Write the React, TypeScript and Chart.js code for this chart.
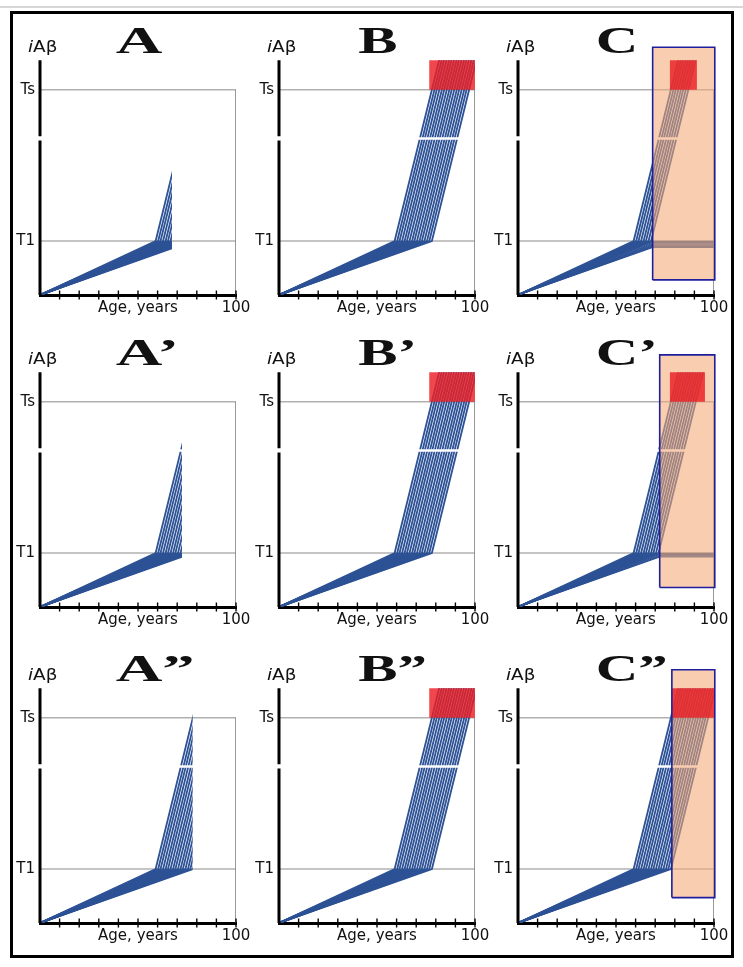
import React, { useEffect, useRef } from 'react';
import { Chart, registerables } from 'chart.js';

Chart.register(...registerables);

// ---- levels (in units of the T1 threshold) ----
const LEVEL_T1 = 1;
const LEVEL_TS = 3.8;
const LEVEL_AXIS_TOP = 4.35;
const LEVEL_BREAK_LOW = 2.86;
const LEVEL_BREAK_HIGH = 2.94;
const LEVEL_BREAK = 2.9;
const LEVEL_LABEL = 4.5;
const Y_MAX = 4.76;

// ---- axis ticks ----
const AGE_TICKS = [10, 20, 30, 40, 50, 60, 70, 80, 90, 100];
const AGE_TICK_LABELS: Record<number, string> = { 50: 'Age, years', 100: '100' };
const LEVEL_TICKS = [LEVEL_T1, LEVEL_TS];
const LEVEL_TICK_LABELS = ['T1', 'Ts'];

// ---- trajectories: age crossing T1, age crossing Ts, age reaching axis top ----
const ONSET_AGES = [59.0, 60.3, 61.5, 62.8, 64.1, 65.3, 66.6, 67.9, 69.1, 70.4, 71.7, 72.9, 74.2, 75.5, 76.7, 78.0];
const TS_AGES = [78.0, 79.3, 80.5, 81.8, 83.1, 84.3, 85.6, 86.9, 88.1, 89.4, 90.7, 91.9, 93.2, 94.5, 95.7, 97.0];
const TOP_AGES = [81.7, 83.0, 84.2, 85.5, 86.8, 88.0, 89.3, 90.6, 91.8, 93.1, 94.4, 95.6, 96.9, 98.2, 99.4, 100.7];

// ---- panels (row-major: A B C / A' B' C' / A" B" C") ----
const PANEL_TITLES = ['A', 'B', 'C', 'A\u2019', 'B\u2019', 'C\u2019', 'A\u201D', 'B\u201D', 'C\u201D'];
const PANEL_BASE_LETTERS = ['A', 'B', 'C', 'A', 'B', 'C', 'A', 'B', 'C'];
const DEATH_AGES: (number | null)[] = [67.3, null, null, 72.4, null, null, 77.9, null, null];
const TREAT_AGES: (number | null)[] = [null, null, 68.7, null, null, 72.3, null, null, 78.5];
const TREAT_BOX_BOTTOM: (number | null)[] = [null, null, 0.28, null, null, 0.36, null, null, 0.47];
const TREAT_BOX_TOP: (number | null)[] = [null, null, 4.59, null, null, 4.67, null, null, 4.69];
const AD_BOX_FROM: (number | null)[] = [null, 76.6, 77.4, null, 76.6, 77.4, null, 76.6, 78.5];
const AD_BOX_TO: (number | null)[] = [null, 100, 91.3, null, 100, 95.4, null, 100, 100];

// ---- layout (pixels) ----
const COL_AXIS_X = [40, 279, 518];
const ROW_BASELINE = [295, 607, 923];
const Y_AXIS_W = 30;
const X_AXIS_H = 24;
const PAD_TOP = 30;
const PAD_RIGHT = 24;
const AREA_W = 196;
const AREA_H = 257;
const CANVAS_W = Y_AXIS_W + AREA_W + PAD_RIGHT;
const CANVAS_H = PAD_TOP + AREA_H + X_AXIS_H;

const BLUE = '#2d5295';
const GRAY = '#8a8a8a';
const PEACH = 'rgba(244,168,118,0.58)';
const RED = 'rgba(236,30,36,0.82)';
const NAVY = '#1f1f9e';
const SANS = '"DejaVu Sans", "Liberation Sans", sans-serif';

function buildDatasets(i: number): any[] {
  const death = DEATH_AGES[i];
  const treat = TREAT_AGES[i];
  const ds: any[] = [];

  // vertical axis with a break
  ds.push({
    data: [
      { x: 0, y: 0 }, { x: 0, y: LEVEL_BREAK_LOW }, { x: 0, y: null },
      { x: 0, y: LEVEL_BREAK_HIGH }, { x: 0, y: LEVEL_AXIS_TOP },
    ],
    borderColor: '#000', borderWidth: 3, spanGaps: false, clip: false, order: 1,
  });

  // threshold frame
  ds.push({
    data: [{ x: 0, y: LEVEL_TS }, { x: 100, y: LEVEL_TS }, { x: 100, y: 0 }],
    borderColor: GRAY, borderWidth: 1, order: 60,
  });
  ds.push({
    data: [{ x: 0, y: LEVEL_T1 }, { x: 100, y: LEVEL_T1 }],
    borderColor: GRAY, borderWidth: 1, order: 60,
  });

  // trajectories
  ONSET_AGES.forEach((onset, k) => {
    if (treat != null && onset >= treat) {
      const v = (treat / onset) * LEVEL_T1;
      ds.push({
        data: [{ x: 0, y: 0 }, { x: treat, y: v }, { x: 100, y: v }],
        borderColor: BLUE, borderWidth: 1.2, order: 50,
      });
    } else {
      ds.push({
        data: [
          { x: 0, y: 0 }, { x: onset, y: LEVEL_T1 },
          { x: TS_AGES[k], y: LEVEL_TS }, { x: TOP_AGES[k], y: LEVEL_AXIS_TOP },
        ],
        borderColor: BLUE, borderWidth: 1.8, order: 50, cutAge: death,
      });
    }
  });

  // white break across the bundle
  ds.push({
    data: [{ x: 1, y: LEVEL_BREAK }, { x: 99.3, y: LEVEL_BREAK }],
    borderColor: '#fff', borderWidth: 2.5, order: 40,
  });

  // treatment window
  if (treat != null) {
    ds.push({
      data: [{ x: treat, y: TREAT_BOX_TOP[i] }, { x: 100, y: TREAT_BOX_TOP[i] }],
      fill: { value: TREAT_BOX_BOTTOM[i] }, backgroundColor: PEACH, borderWidth: 0, order: 30,
    });
  }
  // AD region
  if (AD_BOX_FROM[i] != null) {
    ds.push({
      data: [{ x: AD_BOX_FROM[i], y: LEVEL_AXIS_TOP }, { x: AD_BOX_TO[i], y: LEVEL_AXIS_TOP }],
      fill: { value: LEVEL_TS }, backgroundColor: RED, borderWidth: 0, order: 20,
    });
  }
  if (treat != null) {
    const b = TREAT_BOX_BOTTOM[i], t = TREAT_BOX_TOP[i];
    ds.push({
      data: [
        { x: treat, y: b }, { x: treat, y: t }, { x: 100.4, y: t },
        { x: 100.4, y: b }, { x: treat, y: b },
      ],
      borderColor: NAVY, borderWidth: 1.6, clip: false, order: 10,
    });
  }
  return ds;
}

const cutPlugin = {
  id: 'cutAtAge',
  beforeDatasetDraw(chart: any, args: any) {
    const d: any = chart.data.datasets[args.index];
    if (d.cutAge == null) return;
    const ca = chart.chartArea;
    const x = chart.scales.x.getPixelForValue(d.cutAge);
    chart.ctx.save();
    chart.ctx.beginPath();
    chart.ctx.rect(ca.left - 5, ca.top - 5, x - ca.left + 5, ca.bottom - ca.top + 10);
    chart.ctx.clip();
  },
  afterDatasetDraw(chart: any, args: any) {
    const d: any = chart.data.datasets[args.index];
    if (d.cutAge == null) return;
    chart.ctx.restore();
  },
};

function makeDecorPlugin(i: number) {
  return {
    id: 'panelDecor',
    afterDraw(chart: any) {
      const { ctx, chartArea } = chart;
      const xs = chart.scales.x;
      const ys = chart.scales.y;
      ctx.save();
      // x tick marks crossing the axis
      ctx.strokeStyle = '#000';
      ctx.lineWidth = 1.4;
      xs.ticks.forEach((t: any) => {
        const px = xs.getPixelForValue(t.value);
        ctx.beginPath();
        ctx.moveTo(px, chartArea.bottom - 4.5);
        ctx.lineTo(px, chartArea.bottom + 4.5);
        ctx.stroke();
      });
      const yb = ys.getPixelForValue(LEVEL_LABEL);
      // panel title
      ctx.fillStyle = '#111';
      ctx.textBaseline = 'alphabetic';
      ctx.textAlign = 'left';
      ctx.font = 'bold 38px "Liberation Serif", "DejaVu Serif", serif';
      const sx = PANEL_BASE_LETTERS[i] === 'A' ? 1.7 : 1.55;
      const letterW = ctx.measureText(PANEL_BASE_LETTERS[i]).width * sx;
      const cx = xs.getPixelForValue(50.5);
      ctx.save();
      ctx.translate(cx - letterW / 2, yb + 1);
      ctx.scale(sx, 1);
      ctx.fillText(PANEL_TITLES[i], 0, 0);
      ctx.restore();
      // y axis name iAβ
      ctx.save();
      ctx.translate(chartArea.left - 12, yb);
      ctx.scale(1.15, 1);
      ctx.font = 'italic 16px ' + SANS;
      ctx.fillText('i', 0, 0);
      const iw = ctx.measureText('i').width;
      ctx.font = '16px ' + SANS;
      ctx.fillText('A\u03B2', iw, 0);
      ctx.restore();
      ctx.restore();
    },
  };
}

function Panel({ index }: { index: number }) {
  const ref = useRef<HTMLCanvasElement | null>(null);
  useEffect(() => {
    const canvas = ref.current;
    if (!canvas) return;
    const chart = new Chart(canvas, {
      type: 'line',
      data: { datasets: buildDatasets(index) },
      options: {
        responsive: false,
        animation: false,
        devicePixelRatio: 1,
        events: [],
        layout: { padding: { top: PAD_TOP, right: PAD_RIGHT, bottom: 0, left: 0 } },
        elements: { point: { radius: 0 }, line: { tension: 0 } },
        plugins: { legend: { display: false }, tooltip: { enabled: false }, title: { display: false } },
        scales: {
          x: {
            type: 'linear', min: 0, max: 100,
            afterBuildTicks: (s: any) => { s.ticks = AGE_TICKS.map((v) => ({ value: v })); },
            afterFit: (s: any) => { s.height = X_AXIS_H; },
            grid: { display: false, drawTicks: false },
            border: { display: true, color: '#000', width: 3 },
            ticks: {
              autoSkip: false, maxRotation: 0, minRotation: 0, padding: 4,
              color: '#111', font: { family: SANS, size: 15 },
              callback: (v: any) => AGE_TICK_LABELS[v as number] ?? '',
            },
          },
          y: {
            type: 'linear', min: 0, max: Y_MAX,
            afterBuildTicks: (s: any) => { s.ticks = LEVEL_TICKS.map((v) => ({ value: v })); },
            afterFit: (s: any) => { s.width = Y_AXIS_W; },
            grid: { display: false, drawTicks: false },
            border: { display: false },
            ticks: {
              padding: 5, color: '#111', font: { family: SANS, size: 15 },
              callback: (_v: any, k: number) => LEVEL_TICK_LABELS[k] ?? '',
            },
          },
        },
      } as any,
      plugins: [cutPlugin, makeDecorPlugin(index)],
    });
    return () => chart.destroy();
  }, [index]);
  const col = index % 3;
  const row = Math.floor(index / 3);
  return (
    <canvas
      ref={ref}
      width={CANVAS_W}
      height={CANVAS_H}
      style={{
        position: 'absolute',
        left: COL_AXIS_X[col] - Y_AXIS_W,
        top: ROW_BASELINE[row] - AREA_H - PAD_TOP,
        width: CANVAS_W,
        height: CANVAS_H,
      }}
    />
  );
}

export default function App() {
  return (
    <div style={{ position: 'absolute', left: 0, top: 0, width: 743, height: 967, background: '#fff', overflow: 'hidden' }}>
      <div style={{ position: 'absolute', left: 0, top: 6, width: 743, height: 2, background: '#d6d6d6' }} />
      <div style={{ position: 'absolute', left: 10, top: 11, width: 724, height: 947, border: '3px solid #000', boxSizing: 'border-box' }} />
      {PANEL_TITLES.map((_, i) => (
        <Panel key={i} index={i} />
      ))}
    </div>
  );
}
